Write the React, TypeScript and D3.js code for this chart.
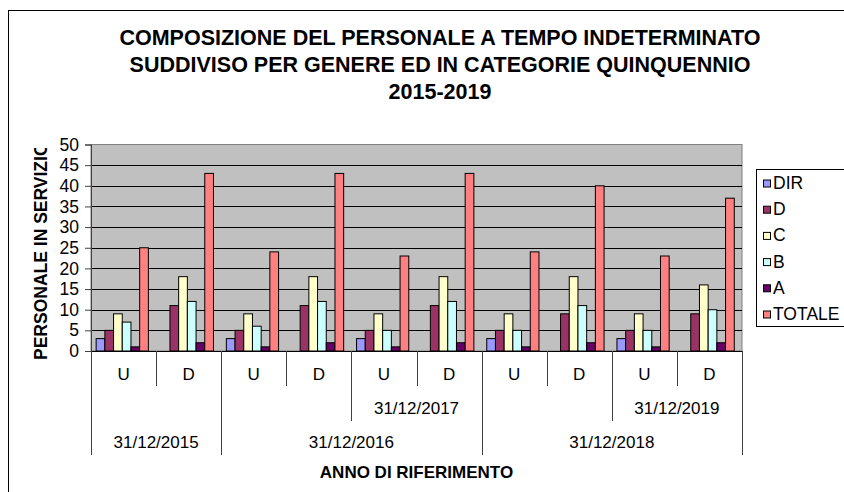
import React, { useEffect, useRef } from 'react';
import * as d3 from 'd3';

const groups = ['U', 'D', 'U', 'D', 'U', 'D', 'U', 'D', 'U', 'D'];
// labels of the second and third level of the category axis: [first group, last group, text]
const midLabels: [number, number, string][] = [
  [4, 5, '31/12/2017'],
  [8, 9, '31/12/2019'],
];
const yearLabels: [number, number, string][] = [
  [0, 1, '31/12/2015'],
  [2, 5, '31/12/2016'],
  [6, 9, '31/12/2018'],
];

const seriesNames = ['DIR', 'D', 'C', 'B', 'A', 'TOTALE'];
const seriesColors = ['#9999FF', '#993366', '#FFFFCC', '#CCFFFF', '#660066', '#FF8080'];

const dirValues = [3, 0, 3, 0, 3, 0, 3, 0, 3, 0];
const dValues = [5, 11, 5, 11, 5, 11, 5, 9, 5, 9];
const cValues = [9, 18, 9, 18, 9, 18, 9, 18, 9, 16];
const bValues = [7, 12, 6, 12, 5, 12, 5, 11, 5, 10];
const aValues = [1, 2, 1, 2, 1, 2, 1, 2, 1, 2];
const totValues = [25, 43, 24, 43, 23, 43, 24, 40, 23, 37];

const yTicks = [0, 5, 10, 15, 20, 25, 30, 35, 40, 45, 50];

const titleLines = [
  'COMPOSIZIONE DEL PERSONALE A TEMPO INDETERMINATO',
  'SUDDIVISO PER GENERE ED IN CATEGORIE QUINQUENNIO',
  '2015-2019',
];

const FONT = '"Liberation Sans", Arial, sans-serif';

const App: React.FC = () => {
  const svgRef = useRef<SVGSVGElement>(null);

  useEffect(() => {
    if (!svgRef.current) return;
    const svg = d3.select(svgRef.current);
    svg.selectAll('*').remove();

    const width = 844;
    const height = 492;
    const plot = { left: 91, right: 742, top: 144.5, bottom: 351 };
    const allSeries = [dirValues, dValues, cValues, bValues, aValues, totValues];

    // chart frame (runs off the right and bottom edges)
    svg
      .append('rect')
      .attr('x', 8.5)
      .attr('y', 10.5)
      .attr('width', width + 20)
      .attr('height', height + 20)
      .attr('fill', '#fff')
      .attr('stroke', '#000')
      .attr('stroke-width', 1);

    // Title
    svg
      .append('g')
      .selectAll('text')
      .data(titleLines)
      .join('text')
      .attr('x', 440)
      .attr('y', (_, i) => 45 + i * 27)
      .attr('text-anchor', 'middle')
      .attr('font-family', FONT)
      .attr('font-weight', 'bold')
      .attr('font-size', '21.5px')
      .attr('fill', '#000')
      .text((d) => d);

    // Scales
    const xScale = d3
      .scaleBand<number>()
      .domain(d3.range(groups.length))
      .range([plot.left, plot.right]);

    const xInner = d3
      .scaleBand<number>()
      .domain(d3.range(seriesNames.length))
      .range([0, xScale.bandwidth()])
      .paddingInner(0)
      .paddingOuter(0.74)
      .align(0.4);

    const yScale = d3.scaleLinear().domain([0, 50]).range([plot.bottom, plot.top]);

    // Plot area
    svg
      .append('rect')
      .attr('x', plot.left)
      .attr('y', plot.top)
      .attr('width', plot.right - plot.left)
      .attr('height', plot.bottom - plot.top)
      .attr('fill', '#C0C0C0')
      .attr('stroke', '#808080')
      .attr('stroke-width', 1);

    // Grid lines
    svg
      .append('g')
      .selectAll('line')
      .data(yTicks.filter((t) => t > 0 && t < 50))
      .join('line')
      .attr('x1', plot.left)
      .attr('x2', plot.right)
      .attr('y1', (d) => Math.round(yScale(d)) + 0.5)
      .attr('y2', (d) => Math.round(yScale(d)) + 0.5)
      .attr('stroke', '#000')
      .attr('stroke-width', 1);

    // Y-axis
    const yAxis = d3
      .axisLeft(yScale)
      .tickValues(yTicks)
      .tickSize(6)
      .tickPadding(6)
      .tickFormat(d3.format('d'));
    const yg = svg
      .append('g')
      .attr('transform', `translate(${plot.left},0)`)
      .call(yAxis);
    yg.select('.domain').attr('stroke', '#404040');
    yg.selectAll('.tick line').attr('stroke', '#404040');
    yg.selectAll('text')
      .attr('fill', '#000')
      .attr('font-family', FONT)
      .attr('font-size', '17.5px');

    // Bars
    const barGroups = svg
      .append('g')
      .selectAll('g')
      .data(allSeries)
      .join('g')
      .attr('fill', (_, i) => seriesColors[i]);

    barGroups
      .selectAll('rect')
      .data((vals, si) => vals.map((v, gi) => ({ v, gi, si })))
      .join('rect')
      .attr('x', (d) => (xScale(d.gi) || 0) + (xInner(d.si) || 0))
      .attr('y', (d) => yScale(d.v))
      .attr('width', xInner.bandwidth())
      .attr('height', (d) => yScale(0) - yScale(d.v))
      .attr('stroke', '#000')
      .attr('stroke-width', 1)
      .attr('display', (d) => (d.v > 0 ? null : 'none'));

    // X-axis line
    svg
      .append('line')
      .attr('x1', plot.left)
      .attr('x2', plot.right)
      .attr('y1', plot.bottom + 0.5)
      .attr('y2', plot.bottom + 0.5)
      .attr('stroke', '#000');

    // Category axis: three levels of labels and separators
    const row1Bottom = 386;
    const row2Bottom = 421;
    const row3Bottom = 455;
    const sepX = (i: number) => Math.round(xScale(i) ?? plot.right) + 0.5;

    const boundaries = d3.range(groups.length + 1).map((i) => {
      const starts = (lbls: [number, number, string][]) =>
        lbls.some((l) => l[0] === i) || lbls.some((l) => l[1] + 1 === i);
      let bottom = row1Bottom;
      if (starts(midLabels)) bottom = row2Bottom;
      if (i === 0 || i === groups.length || starts(yearLabels)) bottom = row3Bottom;
      return { i, bottom };
    });

    const catAxis = svg.append('g').attr('font-family', FONT).attr('font-size', '17px');

    catAxis
      .selectAll('line')
      .data(boundaries)
      .join('line')
      .attr('x1', (d) => sepX(d.i))
      .attr('x2', (d) => sepX(d.i))
      .attr('y1', plot.bottom)
      .attr('y2', (d) => d.bottom)
      .attr('stroke', '#404040')
      .attr('stroke-width', 1);

    catAxis
      .selectAll('text.g')
      .data(groups)
      .join('text')
      .attr('class', 'g')
      .attr('x', (_, i) => (xScale(i) || 0) + xScale.bandwidth() / 2)
      .attr('y', 380)
      .attr('text-anchor', 'middle')
      .text((d) => d);

    const spanCenter = (l: [number, number, string]) =>
      ((xScale(l[0]) || 0) + (xScale(l[1]) || 0) + xScale.bandwidth()) / 2;

    catAxis
      .selectAll('text.m')
      .data(midLabels)
      .join('text')
      .attr('class', 'm')
      .attr('x', spanCenter)
      .attr('y', 414)
      .attr('text-anchor', 'middle')
      .text((d) => d[2]);

    catAxis
      .selectAll('text.y')
      .data(yearLabels)
      .join('text')
      .attr('class', 'y')
      .attr('x', spanCenter)
      .attr('y', 448)
      .attr('text-anchor', 'middle')
      .text((d) => d[2]);

    // Axis titles
    svg
      .append('text')
      .attr('x', (plot.left + plot.right) / 2)
      .attr('y', 478)
      .attr('text-anchor', 'middle')
      .attr('font-family', FONT)
      .attr('font-weight', 'bold')
      .attr('font-size', '17px')
      .text('ANNO DI RIFERIMENTO');

    // the y title is cut off at the top, as in the original
    svg
      .append('clipPath')
      .attr('id', 'ytitle-clip')
      .append('rect')
      .attr('x', 0)
      .attr('y', 148)
      .attr('width', 80)
      .attr('height', 300);

    svg
      .append('g')
      .attr('clip-path', 'url(#ytitle-clip)')
      .append('text')
      .attr('transform', 'translate(47,360) rotate(-90)')
      .attr('font-family', FONT)
      .attr('font-weight', 'bold')
      .attr('font-size', '17.5px')
      .text('PERSONALE IN SERVIZIO');

    // Legend
    const legend = svg.append('g');
    legend
      .append('rect')
      .attr('x', 756.5)
      .attr('y', 169.5)
      .attr('width', 120)
      .attr('height', 157)
      .attr('fill', '#fff')
      .attr('stroke', '#000');

    const items = legend
      .selectAll('g.item')
      .data(seriesNames)
      .join('g')
      .attr('class', 'item')
      .attr('transform', (_, i) => `translate(763,${183 + i * 26.2})`);

    items
      .append('rect')
      .attr('x', 0.5)
      .attr('y', -3)
      .attr('width', 7)
      .attr('height', 7)
      .attr('fill', (_, i) => seriesColors[i])
      .attr('stroke', '#000');

    items
      .append('text')
      .attr('x', 10)
      .attr('y', 6)
      .attr('font-family', FONT)
      .attr('font-size', '17.5px')
      .text((d) => d);
  }, []);

  return (
    <svg
      ref={svgRef}
      width={844}
      height={492}
      style={{ position: 'absolute', left: 0, top: 0, background: '#fff' }}
    />
  );
};

export default App;
